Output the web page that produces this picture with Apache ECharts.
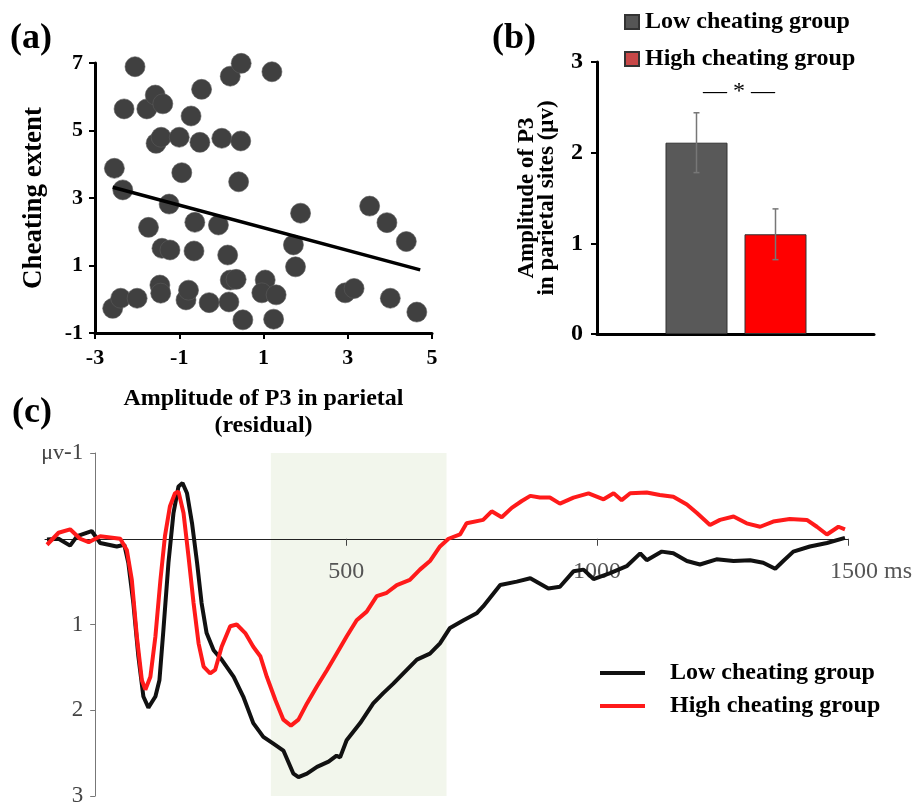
<!DOCTYPE html>
<html>
<head>
<meta charset="utf-8">
<script src="https://cdn.jsdelivr.net/npm/echarts@6/dist/echarts.min.js"></script>
<style>
  html, body { margin: 0; padding: 0; background: #fff; }
  #main { width: 914px; height: 804px; }
</style>
</head>
<body>
<div id="main"></div>
<script>
const SERIF = 'Liberation Serif, Times New Roman, serif';

// (a) scatter: residual P3 amplitude vs cheating extent
const residualP3 = [-2.05, -2.31, -1.77, -1.57, -1.39, -0.72, -0.47, 0.21, 0.47, 1.20,
  -1.55, -1.43, -1.0, -0.51, 0.01, 0.46, -2.54, -0.94, 0.41, -2.34,
  -1.24, -1.73, -0.63, -0.07, 1.88, 3.52, 3.93, 4.39, -1.41, -1.22,
  -0.65, 0.15, 1.71, 1.76, -2.58, -2.39, -2.0, -1.46, -1.44, -0.84,
  -0.78, -0.29, 0.18, 0.21, 0.35, 0.51, 1.04, 0.96, 1.30, 1.24,
  2.94, 3.15, 4.01, 4.64];
const cheatingExtent = [6.89, 5.64, 5.64, 6.05, 5.79, 5.43, 6.22, 6.61, 6.99, 6.74,
  4.62, 4.80, 4.80, 4.65, 4.77, 4.69, 3.88, 3.75, 3.48, 3.24,
  2.82, 2.13, 2.28, 2.20, 2.55, 2.76, 2.27, 1.71, 1.51, 1.46,
  1.43, 1.31, 1.61, 0.96, -0.27, 0.03, 0.03, 0.42, 0.18, -0.02,
  0.27, -0.10, -0.08, 0.57, 0.59, -0.61, 0.57, 0.19, 0.13, -0.59,
  0.19, 0.32, 0.03, -0.38];
const fitX = [-2.58, 4.72];
const fitY = [3.32, 0.87];

// (b) bar chart
const groups = ['Low cheating group', 'High cheating group'];
const p3Means = [2.11, 1.10];
const p3Errors = [0.33, 0.28];

// (c) ERP waveforms (ms, µV)
const lowTime = [-96, -73, -50, -36, -7, 10, 43, 58, 66, 76, 86, 96, 106, 120, 128, 136, 146, 156, 166, 174,
  183, 193, 203, 212, 222, 236, 252, 276, 295, 315, 335, 355, 375, 395, 405, 422, 442, 465, 481, 488,
  501, 528, 554, 574, 594, 614, 641, 667, 687, 707, 734, 760, 773, 807, 840, 867, 903, 926, 953, 973,
  993, 1026, 1059, 1086, 1099, 1129, 1152, 1179, 1205, 1238, 1272, 1305, 1331, 1355, 1371, 1391, 1424, 1458, 1494];
const lowAmp = [0.01, 0, 0.08, -0.03, -0.09, 0.05, 0.09, 0.07, 0.28, 0.75, 1.37, 1.84, 1.97, 1.84, 1.65, 1.06, 0.28, -0.30, -0.61, -0.65,
  -0.53, -0.18, 0.28, 0.75, 1.10, 1.30, 1.41, 1.61, 1.84, 2.15, 2.31, 2.39, 2.47, 2.74, 2.78, 2.74, 2.66, 2.60, 2.53, 2.55,
  2.35, 2.15, 1.92, 1.80, 1.69, 1.57, 1.41, 1.34, 1.22, 1.04, 0.95, 0.87, 0.79, 0.54, 0.50, 0.46, 0.58, 0.56, 0.38, 0.36,
  0.47, 0.40, 0.32, 0.17, 0.25, 0.15, 0.17, 0.26, 0.30, 0.24, 0.26, 0.25, 0.28, 0.35, 0.26, 0.15, 0.09, 0.05, -0.01];
const highTime = [-96, -73, -50, -30, -13, 10, 50, 63, 73, 83, 93, 100, 110, 120, 130, 139, 149, 159, 166, 176,
  186, 196, 206, 216, 229, 239, 252, 269, 282, 299, 315, 329, 342, 359, 375, 390, 405, 422, 442, 462,
  481, 501, 521, 541, 561, 581, 601, 627, 647, 667, 687, 704, 727, 740, 773, 790, 810, 830, 850, 867,
  886, 906, 926, 953, 983, 1013, 1033, 1049, 1066, 1099, 1125, 1152, 1179, 1199, 1225, 1245, 1272, 1298, 1325,
  1351, 1384, 1418, 1438, 1458, 1481, 1494];
const highAmp = [0.07, -0.07, -0.11, 0, 0.04, -0.03, 0, 0.13, 0.48, 1.14, 1.65, 1.76, 1.61, 1.14, 0.48, -0.03, -0.38, -0.53, -0.55, -0.30,
  0.21, 0.75, 1.22, 1.49, 1.57, 1.53, 1.26, 1.02, 1.0, 1.10, 1.26, 1.37, 1.61, 1.88, 2.11, 2.18, 2.11, 1.92, 1.72, 1.53,
  1.34, 1.14, 0.95, 0.85, 0.67, 0.63, 0.54, 0.48, 0.36, 0.26, 0.09, 0, -0.05, -0.18, -0.22, -0.32, -0.25, -0.36, -0.44, -0.50,
  -0.48, -0.48, -0.41, -0.48, -0.53, -0.46, -0.53, -0.45, -0.53, -0.54, -0.51, -0.49, -0.40, -0.30, -0.16, -0.22, -0.26, -0.18, -0.14,
  -0.20, -0.23, -0.22, -0.14, -0.05, -0.14, -0.11];
const shadeWindow = [350, 700];
const timeRange = [-100, 1500];
const ampRange = [-1, 3];
const erpTicks = [500, 1000, 1500];
const ampTicks = [-1, 1, 2, 3];

const chart = echarts.init(document.getElementById('main'));

const boldLabel = { color: '#000', fontFamily: SERIF, fontWeight: 'bold', fontSize: 22 };
const blackLine = { show: true, onZero: false, lineStyle: { color: '#000', width: 3 } };
const blackTick = { show: true, length: 6, lineStyle: { color: '#000', width: 2 } };
const panelTitle = { fontFamily: SERIF, fontSize: 36, fontWeight: 'bold', color: '#000' };

// panel (c) grid; axes cross at (0 ms, 0 µV), so shift them in from the grid edges
const erpGrid = { left: 45, top: 453, width: 803, height: 343 };
const xZeroShift = -erpGrid.height * (ampRange[1] - 0) / (ampRange[1] - ampRange[0]);
const yZeroShift = -erpGrid.width * (0 - timeRange[0]) / (timeRange[1] - timeRange[0]);

const option = {
  animation: false,
  title: [
    { text: '(a)', left: 5, top: 16, textStyle: panelTitle },
    { text: '(b)', left: 487, top: 16, textStyle: panelTitle },
    { text: '(c)', left: 7, top: 390, textStyle: panelTitle }
  ],
  legend: [
    {
      orient: 'vertical', left: 619, top: 5, itemGap: 13, selectedMode: false,
      itemWidth: 14, itemHeight: 14,
      data: [
        { name: groups[0], icon: 'rect', itemStyle: { color: '#555555' } },
        { name: groups[1], icon: 'rect', itemStyle: { color: '#c84848' } }
      ],
      textStyle: { fontFamily: SERIF, fontWeight: 'bold', fontSize: 24, color: '#000', padding: [0, 0, 0, 1] }
    },
    {
      orient: 'vertical', left: 595, top: 656, itemGap: 9, selectedMode: false,
      itemWidth: 45, itemHeight: 4, icon: 'rect',
      data: groups.map(g => g + ' (ERP)'),
      formatter: name => name.replace(' (ERP)', ''),
      textStyle: { fontFamily: SERIF, fontWeight: 'bold', fontSize: 24, color: '#000', padding: [0, 0, 0, 20] }
    }
  ],
  grid: [
    { left: 95, top: 63, width: 337, height: 270, outerBoundsMode: 'none' },
    { left: 597, top: 62, width: 277, height: 272, outerBoundsMode: 'none' },
    { left: 657, top: 62, width: 158, height: 272, outerBoundsMode: 'none' },
    Object.assign({ outerBoundsMode: 'none' }, erpGrid)
  ],
  xAxis: [
    {
      gridIndex: 0, type: 'value', min: -3, max: 5, interval: 2,
      axisLine: blackLine, axisTick: blackTick, splitLine: { show: false },
      axisLabel: Object.assign({ margin: 14 }, boldLabel),
      name: 'Amplitude of P3 in parietal\n(residual)', nameLocation: 'middle', nameGap: 52,
      nameTextStyle: { fontFamily: SERIF, fontWeight: 'bold', fontSize: 24, lineHeight: 27, color: '#000' }
    },
    {
      gridIndex: 1, type: 'value', min: 0, max: 1,
      axisLine: blackLine, axisTick: { show: false }, axisLabel: { show: false }, splitLine: { show: false }
    },
    { gridIndex: 2, type: 'category', data: groups, show: false },
    {
      gridIndex: 3, type: 'value', min: timeRange[0], max: timeRange[1], offset: xZeroShift, z: 2,
      axisLine: { show: true, onZero: false, lineStyle: { color: '#222', width: 1 } },
      axisTick: { show: true, customValues: erpTicks, length: 7, lineStyle: { color: '#444' } },
      axisLabel: {
        customValues: erpTicks, margin: 21, color: '#555', fontFamily: SERIF, fontSize: 24,
        formatter: v => v === 1500 ? '{ms|1500 ms}' : String(v),
        rich: { ms: { color: '#555', fontFamily: SERIF, fontSize: 24, padding: [0, 0, 0, 46] } }
      },
      splitLine: { show: false }
    }
  ],
  yAxis: [
    {
      gridIndex: 0, type: 'value', min: -1, max: 7, interval: 2,
      axisLine: blackLine, axisTick: blackTick, splitLine: { show: false },
      axisLabel: Object.assign({ margin: 12 }, boldLabel),
      name: 'Cheating extent', nameLocation: 'middle', nameGap: 47,
      nameTextStyle: { fontFamily: SERIF, fontWeight: 'bold', fontSize: 27, color: '#000' }
    },
    {
      gridIndex: 1, type: 'value', min: 0, max: 3, interval: 1,
      axisLine: blackLine, axisTick: blackTick, splitLine: { show: false },
      axisLabel: Object.assign({ margin: 14 }, boldLabel, { fontSize: 24 }),
      name: 'Amplitude of P3\nin parietal sites (μv)', nameLocation: 'middle', nameGap: 40,
      nameTextStyle: { fontFamily: SERIF, fontWeight: 'bold', fontSize: 23, lineHeight: 20, color: '#000' }
    },
    { gridIndex: 2, type: 'value', min: 0, max: 3, show: false },
    {
      gridIndex: 3, type: 'value', min: ampRange[0], max: ampRange[1], inverse: true, offset: yZeroShift, z: 2,
      axisLine: { show: true, onZero: false, lineStyle: { color: '#777', width: 1 } },
      axisTick: { show: true, customValues: ampTicks, length: 5, lineStyle: { color: '#777' } },
      axisLabel: {
        customValues: ampTicks, margin: 12, color: '#444', fontFamily: SERIF, fontSize: 23,
        formatter: v => v === -1 ? '{u|μv}-1' : String(v),
        rich: { u: { color: '#444', fontFamily: SERIF, fontSize: 22 } }
      },
      splitLine: { show: false }
    }
  ],
  graphic: [
    {
      type: 'text', x: 739, y: 92, z: 10,
      style: { text: '— * —', font: '24px ' + SERIF, fill: '#000', align: 'center', verticalAlign: 'middle' }
    }
  ],
  series: [
    {
      type: 'scatter', xAxisIndex: 0, yAxisIndex: 0, symbolSize: 20,
      itemStyle: { color: '#404040', borderColor: '#5a5a5a', borderWidth: 0.6, opacity: 1 },
      data: residualP3.map((x, i) => [x, cheatingExtent[i]])
    },
    {
      type: 'line', xAxisIndex: 0, yAxisIndex: 0, showSymbol: false, z: 4,
      lineStyle: { color: '#000', width: 3.5 },
      data: fitX.map((x, i) => [x, fitY[i]])
    },
    {
      name: groups[0], type: 'bar', xAxisIndex: 2, yAxisIndex: 2, barWidth: 62, barGap: '-100%',
      itemStyle: { color: '#595959', borderColor: '#333', borderWidth: 1 },
      data: [p3Means[0], '-']
    },
    {
      name: groups[1], type: 'bar', xAxisIndex: 2, yAxisIndex: 2, barWidth: 62, barGap: '-100%',
      itemStyle: { color: '#ff0000', borderColor: '#333', borderWidth: 1 },
      data: ['-', p3Means[1]]
    },
    {
      type: 'custom', xAxisIndex: 2, yAxisIndex: 2, z: 5,
      data: p3Means.map((m, i) => [i, m, p3Errors[i]]),
      renderItem: function (params, api) {
        const i = api.value(0), m = api.value(1), e = api.value(2);
        const top = api.coord([i, m + e]);
        const bot = api.coord([i, m - e]);
        const w = 3;
        const st = { stroke: '#777', lineWidth: 1.5 };
        return {
          type: 'group',
          children: [
            { type: 'line', shape: { x1: top[0], y1: top[1], x2: bot[0], y2: bot[1] }, style: st },
            { type: 'line', shape: { x1: top[0] - w, y1: top[1], x2: top[0] + w, y2: top[1] }, style: st },
            { type: 'line', shape: { x1: bot[0] - w, y1: bot[1], x2: bot[0] + w, y2: bot[1] }, style: st }
          ]
        };
      }
    },
    {
      type: 'line', xAxisIndex: 3, yAxisIndex: 3, z: 1, data: [], silent: true,
      markArea: {
        silent: true,
        itemStyle: { color: '#f2f6ec' },
        data: [[{ xAxis: shadeWindow[0], yAxis: ampRange[0] }, { xAxis: shadeWindow[1], yAxis: ampRange[1] }]]
      }
    },
    {
      name: groups[0] + ' (ERP)', type: 'line', xAxisIndex: 3, yAxisIndex: 3, showSymbol: false, z: 3,
      color: '#111', lineStyle: { color: '#111', width: 4 },
      data: lowTime.map((t, i) => [t, lowAmp[i]])
    },
    {
      name: groups[1] + ' (ERP)', type: 'line', xAxisIndex: 3, yAxisIndex: 3, showSymbol: false, z: 3,
      color: '#ff1a1a', lineStyle: { color: '#ff1a1a', width: 4 },
      data: highTime.map((t, i) => [t, highAmp[i]])
    }
  ]
};

chart.setOption(option);
</script>
</body>
</html>
